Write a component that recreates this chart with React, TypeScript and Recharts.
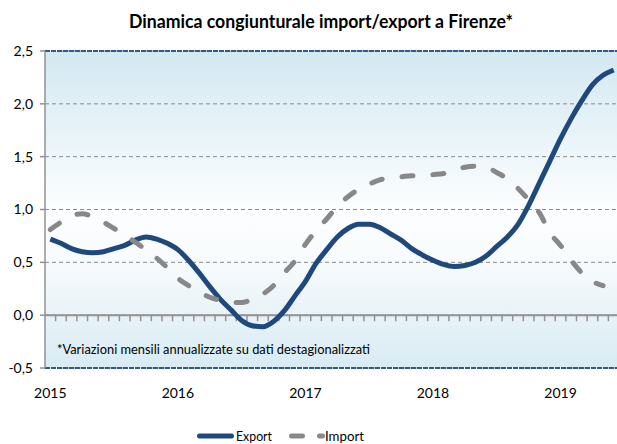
import React from 'react';
import {
  LineChart,
  Line,
  XAxis,
  YAxis,
  CartesianGrid,
  ReferenceLine,
  Legend,
  Customized,
} from 'recharts';

const months = [
  '2015-01', '2015-02', '2015-03', '2015-04', '2015-05', '2015-06', '2015-07', '2015-08', '2015-09', '2015-10', '2015-11', '2015-12',
  '2016-01', '2016-02', '2016-03', '2016-04', '2016-05', '2016-06', '2016-07', '2016-08', '2016-09', '2016-10', '2016-11', '2016-12',
  '2017-01', '2017-02', '2017-03', '2017-04', '2017-05', '2017-06', '2017-07', '2017-08', '2017-09', '2017-10', '2017-11', '2017-12',
  '2018-01', '2018-02', '2018-03', '2018-04', '2018-05', '2018-06', '2018-07', '2018-08', '2018-09', '2018-10', '2018-11', '2018-12',
  '2019-01', '2019-02', '2019-03', '2019-04', '2019-05', '2019-06',
];

const exportValues = [
  0.72, 0.68, 0.63, 0.6, 0.59, 0.6, 0.63, 0.66, 0.71, 0.74, 0.72, 0.68,
  0.62, 0.52, 0.4, 0.27, 0.15, 0.05, -0.05, -0.1, -0.11, -0.06, 0.04, 0.18,
  0.32, 0.49, 0.62, 0.74, 0.82, 0.86, 0.86, 0.83, 0.77, 0.71, 0.63, 0.57,
  0.52, 0.48, 0.46, 0.47, 0.5, 0.56, 0.65, 0.74, 0.86, 1.04, 1.25, 1.46,
  1.67, 1.86, 2.03, 2.18, 2.27, 2.32,
];

const importValues: (number | null)[] = [
  0.81, 0.88, 0.94, 0.96, 0.93, 0.88, 0.82, 0.76, 0.69, 0.62, 0.54, 0.45,
  0.35, 0.28, 0.22, 0.17, 0.14, 0.12, 0.12, 0.15, 0.2, 0.28, 0.4, 0.51,
  0.67, 0.8, 0.91, 1.03, 1.12, 1.19, 1.24, 1.28, 1.3, 1.31, 1.32, 1.32,
  1.33, 1.34, 1.37, 1.4, 1.41, 1.4, 1.35, 1.29, 1.2, 1.09, 0.97, 0.78,
  0.66, 0.52, 0.4, 0.32, 0.28, null,
];

const yearLabels = ['2015', '2016', '2017', '2018', '2019'];
const yTicks = [-0.5, 0, 0.5, 1, 1.5, 2, 2.5];

const TITLE = 'Dinamica congiunturale import/export a Firenze*';
const NOTE = '*Variazioni mensili annualizzate su dati destagionalizzati';

const EXPORT_COLOR = '#1F497D';
const IMPORT_COLOR = '#888888';
const AXIS_GRAY = '#929292';
const BORDER_BLUE = '#2E5A8C';

const data = months.map((m, i) => ({
  idx: i,
  month: m,
  Export: exportValues[i],
  Import: importValues[i],
}));

const yearTickIdx = yearLabels.map((y) => months.indexOf(`${y}-01`));

const fmtY = (v: number) => v.toFixed(1).replace('.', ',');

const Title = () => (
  <text
    x={321}
    y={28}
    textAnchor="middle"
    fontSize={18}
    fontWeight={700}
    fill="#000"
    textLength={384}
    lengthAdjust="spacingAndGlyphs"
  >
    {TITLE}
  </text>
);

const Note = () => (
  <text
    x={57}
    y={354}
    fontSize={14}
    fill="#000"
    textLength={313}
    lengthAdjust="spacingAndGlyphs"
  >
    {NOTE}
  </text>
);

const LegendContent = () => (
  <svg width={617} height={24} style={{ display: 'block' }}>
    <line x1={199.5} y1={12} x2={231.5} y2={12} stroke={EXPORT_COLOR} strokeWidth={5} strokeLinecap="round" />
    <text x={236} y={17} fontSize={14} fill="#000" textLength={36} lengthAdjust="spacingAndGlyphs">Export</text>
    <line x1={291.5} y1={12} x2={322.5} y2={12} stroke={IMPORT_COLOR} strokeWidth={5} strokeLinecap="round" strokeDasharray="11 17" />
    <text x={325} y={17} fontSize={14} fill="#000" textLength={39} lengthAdjust="spacingAndGlyphs">Import</text>
  </svg>
);

export default function App() {
  return (
    <div
      style={{
        position: 'absolute',
        left: 0,
        top: 0,
        width: 617,
        height: 444,
        overflow: 'hidden',
        background: '#fff',
        fontFamily: 'Lato, sans-serif',
      }}
    >
      <LineChart
        width={620}
        height={444}
        data={data}
        margin={{ top: 51, right: 1, bottom: 46, left: 0 }}
      >
        <defs>
          <linearGradient id="plotBg" x1="0" y1="0" x2="0" y2="1">
            <stop offset="0%" stopColor="#D3E8F1" />
            <stop offset="50%" stopColor="#FCFEFF" />
            <stop offset="66%" stopColor="#F8FBFD" />
            <stop offset="100%" stopColor="#D8EBF3" />
          </linearGradient>
        </defs>
        <CartesianGrid
          vertical={false}
          stroke="#8A8A8A"
          strokeDasharray="4 3"
          fill="url(#plotBg)"
          fillOpacity={1}
        />
        <XAxis
          dataKey="idx"
          type="number"
          domain={[-0.5, 53.5]}
          ticks={yearTickIdx}
          tickFormatter={(v: number) => months[v].slice(0, 4)}
          axisLine={false}
          tickLine={false}
          tickSize={0}
          tickMargin={20}
          height={30}
          tick={{ fontSize: 14, fill: '#000' }}
        />
        <YAxis
          type="number"
          domain={[-0.5, 2.5]}
          ticks={yTicks}
          tickFormatter={fmtY}
          width={45}
          axisLine={{ stroke: AXIS_GRAY, strokeWidth: 1.5 }}
          tickLine={{ stroke: AXIS_GRAY, strokeWidth: 1.5 }}
          tickSize={5}
          tickMargin={7}
          tick={{ fontSize: 14, fill: '#000' }}
        />
        <ReferenceLine y={2.5} stroke={BORDER_BLUE} strokeWidth={2} strokeDasharray="5 1" />
        <ReferenceLine y={-0.5} stroke={BORDER_BLUE} strokeWidth={2} strokeDasharray="5 1" />
        <ReferenceLine y={0} stroke={AXIS_GRAY} strokeWidth={2} />
        {months.slice(1).map((m, k) => (
          <ReferenceLine
            key={m}
            segment={[
              { x: k + 0.5, y: 0 },
              { x: k + 0.5, y: -0.057 },
            ]}
            stroke={AXIS_GRAY}
            strokeWidth={1.5}
          />
        ))}
        <Line
          type="monotone"
          dataKey="Export"
          stroke={EXPORT_COLOR}
          strokeWidth={5}
          dot={false}
          activeDot={false}
          isAnimationActive={false}
        />
        <Line
          type="monotone"
          dataKey="Import"
          stroke={IMPORT_COLOR}
          strokeWidth={5}
          strokeDasharray="11 20"
          strokeLinecap="round"
          dot={false}
          activeDot={false}
          isAnimationActive={false}
        />
        <Customized component={Title} />
        <Customized component={Note} />
        <Legend
          layout="horizontal"
          verticalAlign="middle"
          align="center"
          wrapperStyle={{ left: 0, top: 424, width: 617, height: 24 }}
          content={LegendContent}
        />
      </LineChart>
    </div>
  );
}
